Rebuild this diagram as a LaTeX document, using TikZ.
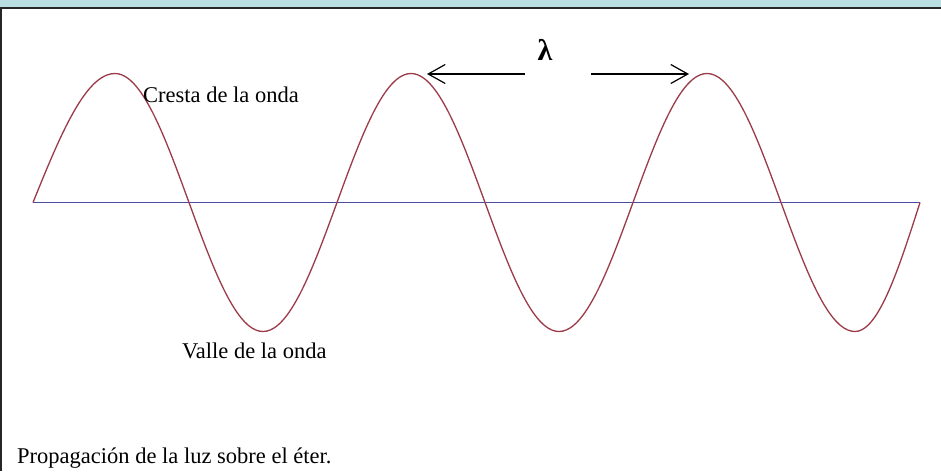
\documentclass[tikz,border=0pt]{standalone}
\usepackage{fontspec}
\setmainfont{Liberation Serif}
\usepackage{xcolor}
\usetikzlibrary{arrows.meta}

\definecolor{wavered}{HTML}{9C3B48}
\definecolor{axisblue}{HTML}{4B4BA0}
\definecolor{barcyan}{HTML}{B9DFE3}

\begin{document}
\begin{tikzpicture}[x=1pt, y=-1pt,
    wave/.style={line width=1.3pt, color=wavered},
    axisline/.style={line width=1.8pt, color=axisblue},
    arr/.style={line width=1.2pt, -{Straight Barb[length=17pt,width=19pt]}},
    lbl/.style={font=\fontsize{22.5}{24}\selectfont, inner sep=0pt, anchor=base west}
]
    % Frame
    \useasboundingbox (0,0) rectangle (941,471);
    \fill[white] (0,0) rectangle (941,471);
    \fill[barcyan] (0,0) rectangle (941,8);
    \draw[line width=2pt, color=black!85] (0,8) -- (941,8);
    \draw[line width=2pt, color=black!85] (1,8) -- (1,471);

    % Baseline
    \coordinate (A) at (33,202.5);
    \coordinate (B) at (920,202.5);
    \draw[axisline] (A) -- (B);

    % Wave, three periods from A to B
    \draw[wave] plot[variable=\t, domain=0:1080, samples=241, smooth]
        ({41+0.822222*\t-8*max(0,1-\t/90)-9*max(0,(\t-990)/90)}, {202.5-129*sin(\t)});

    % Wavelength
    \coordinate (ltail) at (525,74);
    \coordinate (ltip) at (427,74);
    \coordinate (rtail) at (591,74);
    \coordinate (rtip) at (689,74);
    \draw[arr] (ltail) -- (ltip);
    \draw[arr] (rtail) -- (rtip);
    \node[font=\bfseries\fontsize{30}{32}\selectfont, inner sep=0pt] (lambda) at (545,50) {λ};

    % Labels
    \node[lbl] (cresta) at (143,102) {Cresta de la onda};
    \node[lbl] (valle) at (182,358) {Valle de la onda};
    \node[lbl] (caption) at (17,463) {Propagación de la luz sobre el éter.};
\end{tikzpicture}
\end{document}
